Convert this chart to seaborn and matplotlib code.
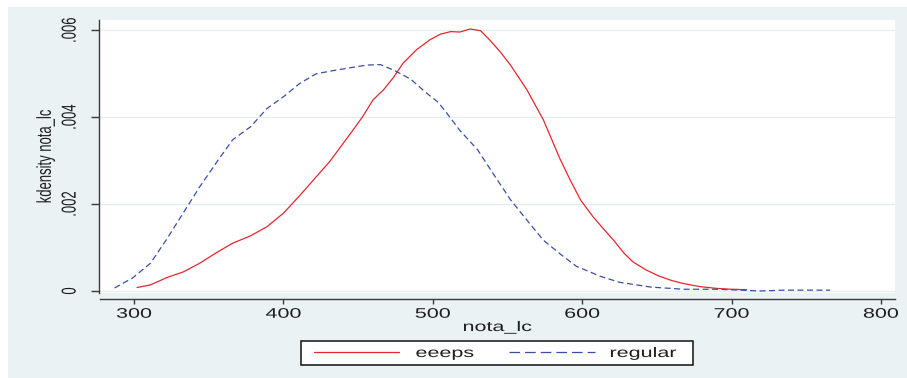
import numpy as np
import pandas as pd
import matplotlib
matplotlib.use("Agg")
import matplotlib.pyplot as plt
import seaborn as sns
from matplotlib.patheffects import AbstractPathEffect
from matplotlib.transforms import Affine2D
from matplotlib.patches import Rectangle
from matplotlib.lines import Line2D

# ---------------- data ----------------
groups = ["eeeps", "regular"]

eeeps_x = [302, 311, 322, 333, 344, 356, 366, 378, 389, 400, 411, 422, 431, 445,
           453, 460, 467, 474, 480, 489, 498, 505, 512, 518, 525, 532, 538, 545,
           552, 563, 574, 585, 592, 599, 607, 614, 621, 628, 634, 643, 651, 660,
           668, 679, 690, 700, 710]
eeeps_y = [0.00008, 0.00014, 0.00031, 0.00044, 0.00064, 0.00090, 0.00110, 0.00127,
           0.00148, 0.00179, 0.00220, 0.00263, 0.00298, 0.00363, 0.00401, 0.00440,
           0.00463, 0.00493, 0.00524, 0.00555, 0.00578, 0.00591, 0.00597, 0.00596,
           0.00603, 0.00599, 0.00578, 0.00551, 0.00520, 0.00463, 0.00394, 0.00305,
           0.00255, 0.00209, 0.00172, 0.00144, 0.00117, 0.00087, 0.00067, 0.00048,
           0.00035, 0.00024, 0.00017, 0.00010, 0.00006, 0.00004, 0.00003]

regular_x = [287, 299, 311, 322, 333, 344, 356, 366, 378, 389, 400, 411, 422, 433,
             445, 456, 465, 474, 485, 496, 503, 507, 518, 530, 541, 552, 563, 574,
             585, 596, 612, 625, 646, 668, 690, 706, 719, 735, 766]
regular_y = [0.00007, 0.00030, 0.00064, 0.00120, 0.00180, 0.00240, 0.00300, 0.00348,
             0.00378, 0.00420, 0.00447, 0.00478, 0.00500, 0.00507, 0.00514, 0.00520,
             0.00521, 0.00508, 0.00488, 0.00455, 0.00436, 0.00420, 0.00370, 0.00325,
             0.00267, 0.00210, 0.00163, 0.00117, 0.00086, 0.00057, 0.00034, 0.00020,
             0.00009, 0.00004, 0.00004, 0.00002, 0.00000, 0.00002, 0.00002]

x_ticks = [300, 400, 500, 600, 700, 800]
x_tick_labels = ["300", "400", "500", "600", "700", "800"]
y_ticks = [0, 0.002, 0.004, 0.006]
y_tick_labels = ["0", ".002", ".004", ".006"]
x_title = "nota_lc"
y_title = "kdensity nota_lc"

df = pd.concat([
    pd.DataFrame({"nota_lc": eeeps_x, "density": eeeps_y, "group": groups[0]}),
    pd.DataFrame({"nota_lc": regular_x, "density": regular_y, "group": groups[1]}),
], ignore_index=True)

# ---------------- style ----------------
RED = "#e8262e"
BLUE = "#3a4ea6"
BG = "#eaf2f3"
GRID = "#e4eef0"
AXC = "#3a3a3a"
TXT = "#1e1e1e"


class HStretch(AbstractPathEffect):
    """Stretch text horizontally about its centre (Stata export look)."""
    def __init__(self, sx):
        super().__init__((0, 0))
        self._sx = sx

    def draw_path(self, renderer, gc, tpath, affine, rgbFace=None):
        ext = tpath.get_extents(affine)
        cx = 0.5 * (ext.x0 + ext.x1)
        t = affine + Affine2D().translate(-cx, 0).scale(self._sx, 1).translate(cx, 0)
        renderer.draw_path(gc, tpath, t, rgbFace)


sns.set_theme(style="white")
plt.rcParams["font.family"] = ["Liberation Sans", "DejaVu Sans"]

W, H = 907, 378
fig = plt.figure(figsize=(W / 100, H / 100), dpi=100, facecolor="white")
fig.patches.append(Rectangle((8 / W, 0), 1, (H - 7) / H, transform=fig.transFigure,
                             fc=BG, ec="none", zorder=-10))

ax = fig.add_axes([100 / W, (H - 293) / H, 795 / W, 273 / H])
ax.set_facecolor("white")

sns.lineplot(data=df, x="nota_lc", y="density", hue="group", style="group",
             palette={groups[0]: RED, groups[1]: BLUE},
             dashes={groups[0]: "", groups[1]: (4.8, 2.8)},
             sort=False, estimator=None, linewidth=0.9, legend=False, ax=ax)

ax.set_xlim(277.2, 809.4)
ax.set_ylim(-0.000046, 0.006237)
ax.set_xticks(x_ticks, labels=x_tick_labels)
ax.set_yticks(y_ticks, labels=y_tick_labels)

ax.grid(axis="y", color=GRID, lw=1.0)
ax.grid(axis="x", visible=False)
ax.set_axisbelow(True)

for s in ["top", "right"]:
    ax.spines[s].set_visible(False)
for s in ["left", "bottom"]:
    ax.spines[s].set_color(AXC)
    ax.spines[s].set_linewidth(1.0)
ax.spines["left"].set_position(("outward", 0.7))
ax.spines["bottom"].set_position(("outward", 4.3))

ax.tick_params(axis="x", which="major", bottom=True, length=3.6, width=1.0,
               color=AXC, pad=2, labelsize=10, labelcolor=TXT)
ax.tick_params(axis="y", which="major", left=True, length=5.8, width=1.0,
               color=AXC, pad=15, labelsize=9.4, labelcolor=TXT, labelrotation=90)
for lab in ax.get_yticklabels():
    lab.set_ha("center")
    lab.set_va("center")

ax.set_xlabel(x_title, fontsize=10, color=TXT, va="center")
ax.xaxis.set_label_coords(0.5, (293 - 327) / 273)
ax.set_ylabel(y_title, fontsize=9.4, color=TXT, va="center")
ax.yaxis.set_label_coords((46 - 100) / 795, 0.5)

# legend
handles = [Line2D([], [], color=RED, lw=0.9),
           Line2D([], [], color=BLUE, lw=0.9, dashes=(8.5, 4))]
leg = fig.legend(handles, groups, loc="center", bbox_to_anchor=(489.5 / W, 25 / H),
                 ncol=2, frameon=False, fontsize=10, handlelength=6.14,
                 handletextpad=1.93, columnspacing=3.3, borderpad=0)
for t in leg.get_texts():
    t.set_color(TXT)
fig.patches.append(Rectangle((301 / W, (H - 365) / H), 392 / W, 24 / H,
                             transform=fig.transFigure, fc="white", ec="#111111",
                             lw=1.1, zorder=1))

stretch = [HStretch(1.55)]
for t in (list(ax.get_xticklabels()) + list(ax.get_yticklabels())
          + [ax.xaxis.label, ax.yaxis.label] + list(leg.get_texts())):
    t.set_path_effects(stretch)

fig.savefig("out.png", dpi=100, facecolor=fig.get_facecolor())
